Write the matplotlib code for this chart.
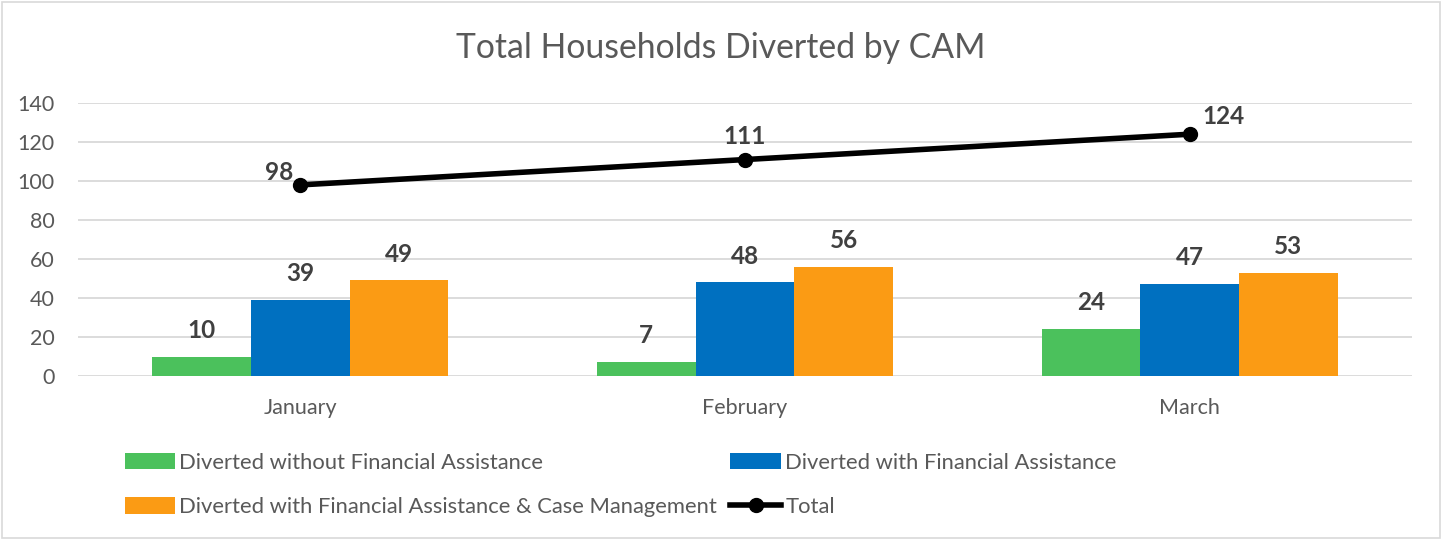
import matplotlib
matplotlib.use("Agg")
import matplotlib.pyplot as plt
import numpy as np
from matplotlib.patches import Rectangle

categories = ["January", "February", "March"]
without_fa = [10, 7, 24]
with_fa = [39, 48, 47]
with_fa_cm = [49, 56, 53]
total = [98, 111, 124]
series_names = ["Diverted without Financial Assistance",
                "Diverted with Financial Assistance",
                "Diverted with Financial Assistance & Case Management",
                "Total"]
colors = ["#4BC15C", "#0070C0", "#FB9B14"]

plt.rcParams['font.family'] = ['Lato', 'DejaVu Sans']
txt = "#595959"
lab = "#404040"

fig = plt.figure(figsize=(14.42, 5.4), dpi=100)
W, H = 1442, 540
ax = fig.add_axes([78 / W, 1 - 376 / H, (1412 - 78) / W, (376 - 103) / H])

x = np.arange(len(categories))
bw = 0.222
bars = []
for i, (vals, c, name) in enumerate(zip([without_fa, with_fa, with_fa_cm], colors, series_names)):
    b = ax.bar(x + (i - 1) * bw, vals, width=bw, color=c, label=name, zorder=2)
    bars.append(b)
    for xi, v in zip(x + (i - 1) * bw, vals):
        ax.annotate(str(v), (xi, v), xytext=(0, 19), textcoords="offset points",
                    ha="center", va="center", fontsize=17.5, fontweight="bold", color=lab)

line, = ax.plot(x, total, color="black", lw=4, marker="o", markersize=10,
                label=series_names[3], zorder=3)
offsets = [(-15, 8.6), (0, 16.6), (24, 13)]
for xi, v, off in zip(x, total, offsets):
    ax.annotate(str(v), (xi, v), xytext=off, textcoords="offset points",
                ha="center", va="center", fontsize=17.5, fontweight="bold", color=lab)

ax.set_xlim(-0.5, 2.5)
ax.set_ylim(0, 140)
ax.set_yticks(range(0, 141, 20))
ax.set_xticks(x)
ax.set_xticklabels(categories)
ax.grid(axis="y", color="#D9D9D9", lw=1.3, zorder=0)
ax.set_axisbelow(True)
for s in ax.spines.values():
    s.set_visible(False)
ax.tick_params(axis="both", length=0, labelsize=15.5, labelcolor=txt)
ax.tick_params(axis="y", pad=17)
ax.tick_params(axis="x", pad=16)

fig.text(0.5, 1 - 48 / H, "Total Households Diverted by CAM", ha="center", va="center",
         fontsize=24.3, color=txt)

handles = [bars[0], bars[2], bars[1], line]
labels = [series_names[0], series_names[2], series_names[1], series_names[3]]
leg = fig.legend(handles, labels, loc="upper left", bbox_to_anchor=(107 / W, 1 - 435 / H),
                 ncol=2, frameon=False, fontsize=15.8, labelcolor=txt,
                 handlelength=2.3, handleheight=0.8, handletextpad=0.2,
                 columnspacing=0.6, labelspacing=1.1, borderpad=0.3)

fig.patches.append(Rectangle((2 / W, 2 / H), 1 - 4 / W, 1 - 4 / H, transform=fig.transFigure,
                             fill=False, edgecolor="#D9D9D9", lw=1.2))

fig.savefig("out.png", dpi=100, facecolor="white")
